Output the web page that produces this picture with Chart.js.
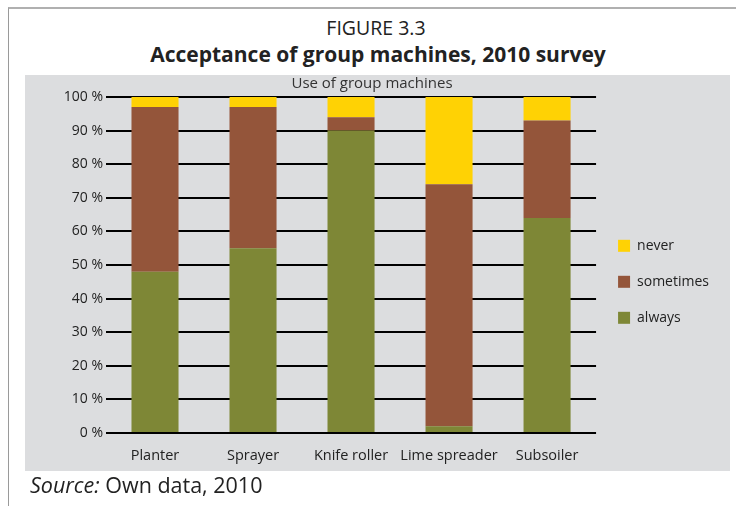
<!DOCTYPE html>
<html>
<head>
<meta charset="utf-8">
<script src="https://cdn.jsdelivr.net/npm/chart.js@4"></script>
<style>
body { margin: 0; background: #fff; font-family: "Open Sans", sans-serif; }
#page { position: relative; width: 736px; height: 506px; overflow: hidden; }
#frame { position: absolute; left: 8px; top: 7px; width: 740px; height: 520px; border-left: 1px solid #9a9a9a; border-top: 2px solid #b0b0b0; }
#fig { position: absolute; left: 8px; width: 736px; top: 14px; text-align: center; font-size: 19.5px; color: #222; }
#ttl { position: absolute; left: 10px; width: 736px; top: 40px; text-align: center; font-size: 21px; font-weight: bold; color: #222; }
#box { position: absolute; left: 25px; top: 75px; width: 705px; height: 396px; background: #dcdddf; }
#wrap { position: absolute; left: 25px; top: 75px; width: 688px; height: 396px; }
#src { position: absolute; left: 30px; top: 470px; font-size: 21.5px; color: #222; }
</style>
</head>
<body>
<div id="page">
  <div id="frame"></div>
  <div id="fig">FIGURE 3.3</div>
  <div id="ttl">Acceptance of group machines, 2010 survey</div>
  <div id="box"></div>
  <div id="wrap"><canvas id="testchart"></canvas></div>
  <div id="src"><i>Source:</i> Own data, 2010</div>
</div>
<script>
// values (percent)
const machines = ["Planter", "Sprayer", "Knife roller", "Lime spreader", "Subsoiler"];
const always = [48, 55, 90, 2, 64];
const sometimes = [49, 42, 4, 72, 29];
const never = [3, 3, 6, 26, 7];
const yTicks = [0, 10, 20, 30, 40, 50, 60, 70, 80, 90, 100];

const font = "'Open Sans', sans-serif";

let select = document.getElementById("testchart");
let currentchart = new Chart(select, {
    type: 'bar',
    data: {
        labels: machines,
        datasets: [{
            label: 'always',
            data: always,
            backgroundColor: "#7e8736"
        },
        {
            label: 'sometimes',
            data: sometimes,
            backgroundColor: "#94553a"
        },
        {
            label: 'never',
            data: never,
            backgroundColor: "#ffd204"
        }]
    },
    options: {
        maintainAspectRatio: false,
        responsive: true,
        animation: false,
        events: [],
        layout: { padding: { left: 0, right: -6, top: 0, bottom: 0 } },
        datasets: { bar: { barPercentage: 0.48, categoryPercentage: 1 } },
        scales: {
            x: {
                stacked: true,
                grid: { display: false },
                border: { display: false },
                ticks: { color: "#222", font: { family: font, size: 14.5 }, padding: 6, maxRotation: 0, autoSkip: false },
                afterFit: (scale) => { scale.height = 38; }
            },
            y: {
                stacked: true,
                min: 0,
                max: 100,
                afterBuildTicks: (scale) => { scale.ticks = yTicks.map(v => ({ value: v })); },
                grid: { color: "#000", lineWidth: 2, drawTicks: false },
                border: { display: false },
                ticks: { color: "#222", font: { family: font, size: 14 }, padding: 3, callback: (v) => v + ' %' },
                afterFit: (scale) => { scale.width = 81; }
            }
        },
        plugins: {
            title: {
                display: true,
                text: 'Use of group machines',
                color: "#333",
                font: { family: font, size: 15, weight: 'normal' },
                padding: { top: 0, bottom: 4 }
            },
            legend: {
                position: 'right',
                reverse: true,
                title: { display: true, text: ' ', padding: 1, font: { size: 13 } },
                labels: {
                    boxWidth: 12,
                    boxHeight: 12,
                    padding: 22,
                    color: "#222",
                    font: { family: font, size: 14 }
                }
            },
            tooltip: { enabled: false }
        }
    }
});
</script>
</body>
</html>
